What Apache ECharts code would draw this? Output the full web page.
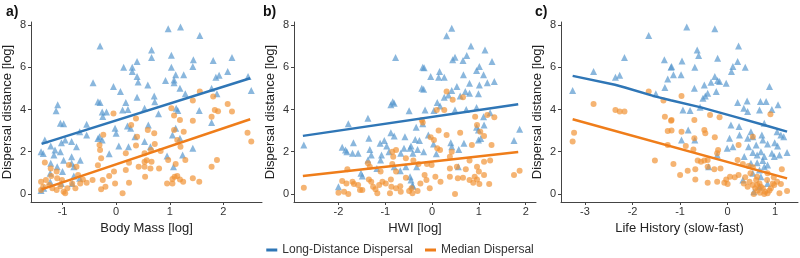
<!DOCTYPE html>
<html>
<head>
<meta charset="utf-8">
<script src="https://cdn.jsdelivr.net/npm/echarts@6/dist/echarts.min.js"></script>
<style>
  html, body { margin: 0; padding: 0; background: #fff; }
  #main { width: 800px; height: 258px; }
</style>
</head>
<body>
<div id="main"></div>
<script>
// panel a: body mass
const massLdd = [[-0.30,7.0],[0.14,6.0],[0.30,6.0],[0.39,6.27],[0.30,5.8],[0.39,5.56],[0.41,5.3],[-0.43,5.27],[-0.05,5.09],[0.08,4.85],[0.39,4.58],[-1.09,4.22],[-1.12,3.94],[-0.34,4.37],[-0.30,4.33],[0.18,4.33],[-0.26,3.88],[-0.18,3.88],[0.12,3.97],[0.22,4.0],[-0.25,3.67],[-1.04,3.35],[-0.98,3.32],[-0.55,3.3],[-0.02,3.11],[0.0,2.87],[0.21,3.22],[0.27,3.11],[0.35,2.71],[-0.31,2.71],[-0.26,2.55],[-0.55,2.79],[-0.68,2.95],[-1.33,2.56],[-1.40,2.0],[-1.36,1.92],[-1.22,2.27],[-1.14,2.08],[-1.02,2.43],[-0.95,2.56],[-0.83,2.48],[-0.74,2.24],[-1.04,2.0],[-1.16,1.84],[-1.22,1.45],[-1.10,1.29],[-0.98,1.6],[-0.83,1.76],[-0.83,1.45],[-0.79,1.29],[-0.67,1.6],[-0.34,2.63],[-0.13,1.9],[0.05,2.27],[0.23,2.24],[-1.23,0.98],[-1.0,1.06],[-0.79,0.85],[-0.68,0.74],[-0.82,0.5],[-1.23,0.58],[-1.35,0.27],[-1.02,0.5],[-1.40,0.16],
  [0.97,7.82],[1.20,7.9],[1.56,7.5],[0.66,6.82],[0.66,6.46],[1.03,6.57],[1.44,6.35],[1.81,6.32],[2.16,6.46],[1.03,6.0],[1.43,6.03],[1.11,5.64],[1.26,5.64],[2.08,5.8],[1.86,5.53],[1.92,5.62],[0.92,5.37],[1.08,5.4],[1.08,5.27],[0.59,5.16],[1.19,5.01],[1.78,5.01],[2.46,5.56],[2.52,4.9],[1.29,4.74],[1.88,4.74],[0.71,4.64],[0.72,4.37],[1.12,4.06],[1.15,3.95],[1.55,3.95],[0.79,3.8],[0.53,4.06],[0.60,3.27],[1.78,3.38],[1.11,3.11],[1.05,2.79],[1.19,2.64],[0.53,2.48],[0.64,2.24],[1.43,2.16],[0.95,1.8],[1.24,1.85],[1.07,1.29]]
const massMed = [[-0.05,3.81],[-0.24,2.8],[-0.31,2.32],[-0.30,2.08],[0.37,3.57],[0.28,3.27],[0.39,2.71],[0.37,2.29],[0.18,1.93],[-0.34,1.36],[-0.28,1.69],[-1.33,1.49],[-1.22,1.21],[-1.11,1.06],[-1.10,0.74],[-0.88,1.37],[-0.74,1.29],[-0.71,0.9],[-0.62,0.69],[-0.44,0.66],[-0.25,0.66],[-0.13,0.85],[-0.04,1.06],[-0.02,0.5],[-0.2,0.34],[-0.28,0.22],[0.12,0.03],[0.24,0.53],[0.18,1.13],[0.24,1.48],[0.42,1.29],[0.54,0.82],[0.57,1.6],[-1.40,0.58],[-1.36,0.34],[-1.25,0.42],[-1.19,0.27],[-1.11,0.19],[-1.04,0.37],[-0.98,0.11],[-0.91,0.27],[-0.95,0.03],[-0.82,0.5],[-0.76,0.27],[-0.67,0.5],[-0.55,0.53],[-1.31,0.66],[-1.40,0.19],[-1.21,0.85],[-1.01,0.66],
  [1.56,4.85],[1.81,4.61],[1.43,4.42],[2.08,4.26],[1.84,3.98],[1.90,3.92],[2.16,3.9],[1.78,3.66],[1.03,4.06],[1.08,3.72],[1.19,3.5],[1.43,3.47],[0.59,3.03],[0.71,2.87],[1.08,3.03],[1.26,2.95],[2.45,2.9],[2.52,2.48],[1.14,2.55],[1.20,2.24],[0.72,2.37],[0.65,2.08],[0.53,1.93],[0.83,2.03],[0.53,1.53],[0.66,1.53],[0.97,1.61],[1.29,1.61],[1.11,1.42],[1.88,1.61],[1.78,1.29],[0.64,1.21],[0.80,1.21],[0.53,1.29],[0.95,0.5],[1.05,0.71],[1.05,0.5],[1.14,0.85],[1.19,0.69],[1.25,0.58],[1.43,0.74],[1.55,0.58],[1.09,0.82]]
const massLddFit = [[-1.39,2.37],[2.5,5.48]]
const massMedFit = [[-1.39,0.22],[2.5,3.54]]

// panel b: HWI
const hwiLdd = [[-0.78,6.46],[-0.88,4.22],[-0.84,4.37],[-0.81,4.3],[-0.49,3.94],[-1.37,3.59],[-1.79,3.32],[-2.74,2.32],[-1.92,2.21],[-1.85,2.08],[-1.82,2.0],[-1.68,2.43],[-1.70,1.93],[-1.58,1.93],[-1.35,2.64],[-1.30,1.85],[-1.33,2.11],[-1.11,2.4],[-1.02,2.53],[-0.97,2.27],[-0.88,2.9],[-0.81,2.74],[-0.92,2.0],[-1.08,1.85],[-1.10,1.61],[-1.37,1.61],[-1.18,1.21],[-1.52,0.98],[-1.49,0.85],[-0.58,2.71],[-0.60,2.16],[-0.45,2.27],[-0.67,1.93],[-0.81,1.29],[-0.68,1.1],[-0.56,1.29],[-0.45,0.66],[-0.42,0.42],[-2.0,0.34],
  [0.42,7.85],[0.31,7.49],[0.83,7.01],[1.13,6.82],[0.49,6.47],[0.44,6.35],[0.74,6.56],[0.66,6.32],[1.28,6.27],[-0.20,6.0],[-0.17,5.97],[0.16,5.8],[-0.03,5.56],[0.14,5.53],[0.26,5.53],[0.67,5.64],[0.95,5.84],[1.01,6.03],[1.10,5.64],[1.18,5.27],[1.33,5.32],[0.80,5.24],[1.01,5.16],[-0.22,5.01],[-0.18,4.96],[0.53,5.09],[0.42,4.9],[0.60,4.64],[0.71,4.85],[0.99,4.74],[0.80,4.77],[0.26,4.58],[0.35,4.69],[0.11,4.33],[0.17,4.17],[-0.15,3.98],[0.04,3.95],[0.49,3.98],[0.73,4.0],[0.95,4.09],[1.24,3.85],[1.10,3.66],[1.11,3.27],[0.95,3.16],[0.99,3.03],[-0.34,3.16],[-0.20,3.32],[-0.08,2.79],[-0.36,2.58],[-0.27,2.53],[0.03,2.37],[0.40,2.43],[0.42,2.24],[0.68,2.4],[0.99,2.56],[1.04,2.63],[0.57,2.11],[-0.47,2.16],[-0.31,2.11],[-0.18,2.0],[-0.41,1.93],[0.09,1.9],[1.87,3.06],[1.75,2.53],[0.56,1.29],[-0.33,1.29],[-0.47,0.82],[-0.41,0.37]]
const hwiMed = [[-2.74,0.3],[-1.81,1.17],[-1.92,0.62],[-1.83,0.5],[-2.0,0.06],[-1.88,0.11],[-1.79,0.0],[-1.70,0.58],[-1.67,0.47],[-1.58,0.42],[-1.54,0.19],[-1.49,0.19],[-1.37,1.45],[-1.33,1.29],[-1.35,0.69],[-1.30,0.58],[-1.26,0.34],[-1.21,0.22],[-1.13,0.42],[-1.10,1.06],[-1.06,0.58],[-0.99,0.5],[-0.88,0.69],[-0.85,2.0],[-0.77,2.08],[-0.83,1.76],[-0.85,1.42],[-0.77,1.06],[-0.87,0.34],[-0.77,0.27],[-0.68,0.37],[-0.90,0.03],[-0.56,1.69],[-0.56,0.77],[-0.49,0.14],[-0.42,0.03],[-0.67,0.11],[-1.17,0.03],
  [0.31,4.85],[0.44,4.46],[0.66,4.58],[0.26,3.98],[0.10,3.98],[-0.22,3.5],[-0.20,3.38],[1.18,3.74],[1.33,3.63],[0.92,3.66],[0.96,3.27],[1.03,2.95],[1.11,2.74],[0.60,2.9],[0.14,3.0],[0.31,2.79],[-0.03,2.68],[0.04,2.56],[0.11,2.16],[0.17,2.08],[0.85,2.32],[1.27,2.32],[0.42,2.0],[0.38,1.76],[-0.40,1.58],[-0.29,1.42],[-0.11,1.42],[-0.01,1.37],[0.38,1.21],[0.53,1.29],[0.80,1.58],[0.96,1.29],[1.11,1.53],[1.24,1.58],[1.00,1.06],[0.72,1.17],[0.38,0.82],[0.07,0.82],[-0.12,0.66],[-0.16,0.9],[-0.25,0.5],[-0.05,0.27],[0.18,0.58],[0.55,0.74],[0.66,0.77],[0.80,0.66],[0.91,0.82],[0.96,0.69],[0.88,0.53],[1.01,0.47],[1.11,0.9],[1.22,0.47],[0.49,0.0],[1.75,0.9],[1.87,1.1],[-0.31,0.14],[-0.44,0.27]]
const hwiLddFit = [[-2.76,2.75],[1.84,4.25]]
const hwiMedFit = [[-2.76,0.85],[1.84,1.99]]

// panel c: life history
const lhLdd = [[-1.66,7.5],[-2.17,6.46],[-2.82,5.8],[-2.36,5.53],[-2.27,5.62],[-3.26,4.9],[-1.51,4.74],[-1.33,6.35],[-1.26,5.44],[-1.32,5.04],[-1.19,6.0],
  [-0.86,7.9],[-0.27,7.82],[0.23,7.01],[-0.64,6.82],[-0.61,6.56],[-0.21,6.42],[-0.96,6.3],[0.21,6.27],[-1.18,6.03],[-0.69,6.0],[0.11,6.03],[0.37,6.0],[0.08,5.8],[-1.14,5.64],[-0.98,5.64],[-0.27,5.56],[-0.35,5.29],[-0.21,5.37],[-0.17,5.32],[-0.49,5.16],[-0.03,5.24],[0.88,5.09],[-0.70,5.01],[-0.42,4.77],[-0.24,4.85],[-0.52,4.53],[-0.47,4.64],[0.21,4.33],[0.41,4.4],[0.69,4.38],[0.81,4.38],[1.06,4.22],[0.34,4.06],[0.42,3.9],[0.67,3.98],[0.93,4.0],[-0.94,3.98],[-0.79,3.95],[-0.58,4.1],[0.07,3.27],[0.24,3.19],[0.49,2.95],[0.77,3.35],[1.12,2.79],[1.18,2.71],[1.04,2.95],[-0.83,3.03],[-0.97,2.56],[-0.69,2.56],[0.04,2.64],[0.25,2.79],[0.42,2.64],[0.53,2.71],[0.72,2.79],[0.74,2.56],[0.60,2.32],[0.84,2.37],[0.99,2.43],[1.05,2.27],[0.44,2.24],[-0.01,2.16],[0.11,2.24],[-0.22,1.85],[0.35,1.77],[0.53,1.96],[0.62,1.85],[0.70,2.0],[0.77,1.77],[0.93,1.93],[0.98,1.77],[1.09,1.85],[1.25,1.96],[0.49,1.45],[0.62,1.48],[0.74,1.58],[0.84,1.37],[-0.40,1.29],[0.67,1.13],[0.77,1.29],[0.53,0.98],[0.32,0.66],[0.70,0.82],[0.84,0.5],[0.67,0.34],[0.55,0.11]]
const lhMed = [[-1.66,4.85],[-2.82,4.26],[-2.36,3.98],[-2.27,3.9],[-2.17,3.9],[-3.23,2.9],[-3.26,2.48],[-1.53,1.58],[-1.32,3.66],[-1.26,2.98],[-1.19,3.47],[-1.35,4.42],
  [-0.97,4.64],[-1.18,3.5],[-0.70,3.5],[-0.37,3.74],[-0.17,3.63],[0.90,3.77],[-1.18,3.0],[-0.97,2.95],[-0.49,3.03],[-0.47,2.87],[-0.70,2.64],[-0.27,2.68],[-1.26,2.32],[-0.88,2.27],[-0.72,2.11],[-0.20,2.08],[-0.22,1.93],[0.23,2.32],[0.53,2.71],[-1.14,1.42],[-0.63,1.58],[-0.56,1.53],[-0.49,1.58],[-0.42,1.61],[-0.84,1.1],[-0.68,1.17],[-0.42,1.29],[-0.28,1.17],[-0.15,1.21],[0.21,1.61],[0.32,1.42],[0.44,1.32],[0.53,1.26],[1.14,1.17],[-1.0,0.9],[-0.68,0.69],[-0.42,0.53],[-0.22,0.58],[-0.03,0.69],[0.05,0.82],[0.15,0.79],[0.23,0.9],[0.37,0.79],[0.48,0.98],[0.62,0.82],[0.84,0.98],[0.97,0.79],[1.04,0.58],[1.12,0.47],[1.25,0.14],[1.09,0.03],[-0.07,0.53],[0.0,0.47],[0.34,0.5],[0.42,0.34],[0.53,0.42],[0.58,0.27],[0.63,0.16],[0.68,0.06],[0.74,0.27],[0.79,0.11],[0.84,0.03],[0.91,0.27],[0.98,0.42],[0.60,0.66],[0.46,0.58],[0.67,0.5],[0.83,0.66],[0.95,0.5],[0.88,0.16],[0.62,0.42],[0.70,0.34],[0.55,0.0],[0.77,0.0]]
const lhLddFit = [[-3.26,5.59],[-2.37,5.17],[-2.16,5.04],[-1.53,4.62],[-1.2,4.44],[-0.56,4.1],[0.14,3.66],[0.84,3.22],[1.25,2.95]]
const lhMedFit = [[-3.26,3.54],[1.25,0.74]]

const yTicks = [0, 2, 4, 6, 8]
const xTicksA = [-1, 0, 1, 2]
const xTicksB = [-2, -1, 0, 1, 2]
const xTicksC = [-3, -2, -1, 0, 1]
const xNames = ['Body Mass [log]', 'HWI [log]', 'Life History (slow-fast)']
const panelTags = ['a)', 'b)', 'c)']
const yName = 'Dispersal distance [log]'
const seriesNames = ['Long-Distance Dispersal', 'Median Dispersal']

const FONT = 'Liberation Sans, Arial, sans-serif'
const BLUE = '#2f76b6'
const ORANGE = '#ef7d1a'
const BLUE_PT = 'rgba(84,150,205,0.85)'
const ORANGE_PT = 'rgba(240,145,50,0.85)'

let myChart = echarts.init(document.getElementById('main'))

const grids = [
  { left: 26, top: 22, width: 236, height: 180 },
  { left: 294, top: 22, width: 242, height: 180 },
  { left: 561, top: 22, width: 237, height: 180 }
]
const xRanges = [[-1.588, 2.72], [-2.95, 2.22], [-3.505, 1.48]]
const xTicks = [xTicksA, xTicksB, xTicksC]

const axisBase = {
  axisLine: { show: true, onZero: false, lineStyle: { color: '#444', width: 1 } },
  axisTick: { show: true, length: 3, lineStyle: { color: '#444' } },
  splitLine: { show: false },
  axisLabel: { color: '#333', fontSize: 11, fontFamily: FONT },
  nameTextStyle: { color: '#222', fontSize: 13, fontFamily: FONT }
}

const xAxes = grids.map((g, i) => Object.assign({}, axisBase, {
  type: 'value', gridIndex: i, position: 'bottom',
  min: xRanges[i][0], max: xRanges[i][1],
  name: xNames[i], nameLocation: 'middle', nameGap: 18,
  axisTick: Object.assign({}, axisBase.axisTick, { customValues: xTicks[i] }),
  axisLabel: Object.assign({}, axisBase.axisLabel, { customValues: xTicks[i], margin: 4 })
}))
const yAxes = grids.map((g, i) => Object.assign({}, axisBase, {
  type: 'value', gridIndex: i, position: 'left',
  min: -0.379, max: 8.14,
  name: yName, nameLocation: 'middle', nameGap: 17,
  axisTick: Object.assign({}, axisBase.axisTick, { customValues: yTicks }),
  axisLabel: Object.assign({}, axisBase.axisLabel, { customValues: yTicks, margin: 5 })
}))

const points = [[massLdd, massMed], [hwiLdd, hwiMed], [lhLdd, lhMed]]
const fits = [[massLddFit, massMedFit], [hwiLddFit, hwiMedFit], [lhLddFit, lhMedFit]]

let series = []
points.forEach((p, i) => {
  series.push({
    name: 'ldd-pts', type: 'scatter', xAxisIndex: i, yAxisIndex: i,
    symbol: 'triangle', symbolSize: 7, data: p[0],
    itemStyle: { color: BLUE_PT }, silent: true
  })
  series.push({
    name: 'med-pts', type: 'scatter', xAxisIndex: i, yAxisIndex: i,
    symbol: 'circle', symbolSize: 6, data: p[1],
    itemStyle: { color: ORANGE_PT }, silent: true
  })
})
fits.forEach((f, i) => {
  series.push({
    name: seriesNames[0], type: 'line', xAxisIndex: i, yAxisIndex: i,
    data: f[0], showSymbol: false, lineStyle: { color: BLUE, width: 2.5 },
    itemStyle: { color: BLUE }, z: 5, silent: true
  })
  series.push({
    name: seriesNames[1], type: 'line', xAxisIndex: i, yAxisIndex: i,
    data: f[1], showSymbol: false, lineStyle: { color: ORANGE, width: 2.5 },
    itemStyle: { color: ORANGE }, z: 5, silent: true
  })
})

let options = {
  animation: false,
  title: panelTags.map((t, i) => ({
    text: t, left: [1, 258, 530][i], top: 0,
    textStyle: { fontSize: 14, fontWeight: 'bold', color: '#111', fontFamily: FONT }
  })),
  legend: {
    data: seriesNames.map(n => ({ name: n, icon: 'rect' })),
    left: 'center', top: 239,
    itemWidth: 11, itemHeight: 3, itemGap: 12,
    textStyle: { fontSize: 12, color: '#333', fontFamily: FONT }
  },
  grid: grids,
  xAxis: xAxes,
  yAxis: yAxes,
  series: series
}
myChart.setOption(options)
</script>
</body>
</html>
